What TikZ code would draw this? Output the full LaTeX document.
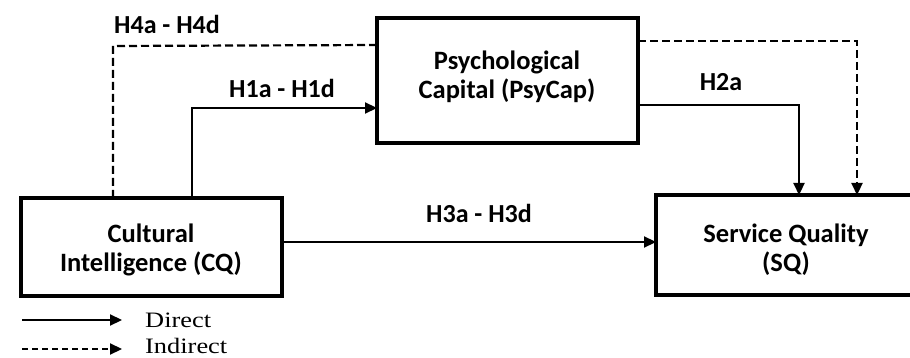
\documentclass[tikz,border=0pt]{standalone}
\usepackage{fontspec}
\setmainfont{Carlito}
\newfontfamily\legendfont{Liberation Serif}
\usetikzlibrary{arrows.meta}
\begin{document}
\begin{tikzpicture}[x=1pt,y=-1pt,
  box/.style={draw, line width=4pt, inner sep=0pt},
  boxtext/.style={font=\fontsize{26.5}{29}\selectfont\bfseries, align=center, inner sep=0pt},
  lbl/.style={font=\fontsize{26}{29}\selectfont\bfseries, inner sep=0pt},
  conn/.style={line width=2.2pt, -{Triangle[length=12pt,width=11pt]}},
  indirect/.style={conn, dash pattern=on 8pt off 4pt},
  legtext/.style={font=\fontsize{22}{26}\selectfont\legendfont, anchor=base west, inner sep=0pt}]
\useasboundingbox (0,0) rectangle (910,358);
% boxes
\node[box, minimum width=261pt, minimum height=97pt] (cq) at (151,247) {};
\node[box, minimum width=261pt, minimum height=125pt] (pc) at (507.5,80.5) {};
\node[box, minimum width=256pt, minimum height=100pt] (sq) at (784,245) {};
\node[boxtext] (cqt) at (151,250) {Cultural\\Intelligence (CQ)};
\node[boxtext] (pct) at (507,77) {Psychological\\Capital (PsyCap)};
\node[boxtext] (sqt) at (786,250) {Service Quality\\(SQ)};
% connector coordinates
\coordinate (h4s) at (113,198);
\coordinate (h4c) at (113,46);
\coordinate (h4e) at (377,45);
\coordinate (h1s) at (192,198);
\coordinate (h1c) at (192,108);
\coordinate (h1e) at (377,108);
\coordinate (h2s) at (638,105);
\coordinate (h2c) at (799,105);
\coordinate (h2e) at (799,195);
\coordinate (h5s) at (638,41);
\coordinate (h5c) at (857,41);
\coordinate (h5e) at (857,195);
\coordinate (h3s) at (281,242);
\coordinate (h3e) at (656,242);
% connectors
\draw[indirect, -] (h4s) -- (h4c) -- (h4e);
\draw[conn] (h1s) -- (h1c) -- (h1e);
\draw[conn] (h2s) -- (h2c) -- (h2e);
\draw[indirect] (h5s) -- (h5c) -- (h5e);
\draw[conn] (h3s) -- (h3e);
% labels
\node[lbl] (l4) at (167,24) {H4a - H4d};
\node[lbl] (l1) at (282,88) {H1a - H1d};
\node[lbl] (l2) at (721,82) {H2a};
\node[lbl] (l3) at (479,213) {H3a - H3d};
% legend
\coordinate (d1) at (22,320);
\coordinate (d2) at (122,320);
\coordinate (i1) at (22,349);
\coordinate (i2) at (122,349);
\draw[conn] (d1) -- (d2);
\draw[indirect, dash pattern=on 6pt off 4pt] (i1) -- (i2);
\node[legtext] (dt) at (145,327) {\scalebox{1.2}[1]{Direct}};
\node[legtext] (it) at (145,353) {\scalebox{1.2}[1]{Indirect}};
\end{tikzpicture}
\end{document}
